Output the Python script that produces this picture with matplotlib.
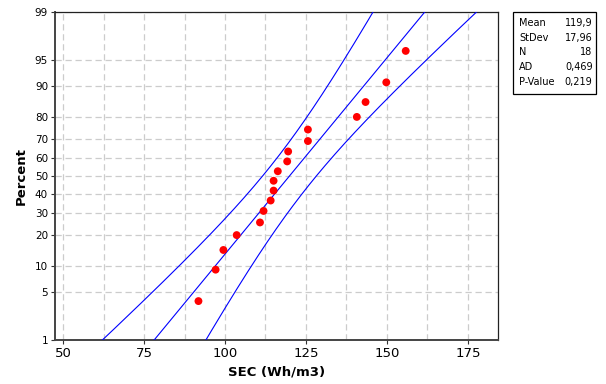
import numpy as np
import matplotlib
matplotlib.use("Agg")
import matplotlib.pyplot as plt
from matplotlib.patches import Rectangle
from statistics import NormalDist

# ---- data ----
sec_values = [91.8, 97.1, 99.5, 103.6, 110.8, 111.9, 114.1, 115.0, 115.0,
              116.3, 119.2, 119.5, 125.6, 125.6, 140.7, 143.4, 149.8, 155.8]
percent_values = [3.8, 9.2, 14.7, 20.1, 25.5, 31.0, 36.4, 41.8, 47.3,
                  52.7, 58.2, 63.6, 69.0, 74.5, 79.9, 85.3, 90.8, 96.2]
y_ticks = [1, 5, 10, 20, 30, 40, 50, 60, 70, 80, 90, 95, 99]
x_ticks = [50, 75, 100, 125, 150, 175]
stat_labels = ["Mean", "StDev", "N", "AD", "P-Value"]
stat_texts = ["119,9", "17,96", "18", "0,469", "0,219"]
mean_val = 119.9
sd_val = 17.96
n_val = 18

nd = NormalDist()
_ppf = np.vectorize(nd.inv_cdf, otypes=[float])
_cdf = np.vectorize(nd.cdf, otypes=[float])


def fwd(p):
    p = np.clip(np.asarray(p, dtype=float), 1e-9, 100 - 1e-9)
    return _ppf(p / 100.0)


def inv(z):
    return _cdf(np.asarray(z, dtype=float)) * 100.0


fig = plt.figure(figsize=(6.06, 3.84), dpi=100)
W, H = 606, 384
L, R, T, B = 55, 498, 12, 340
ax = fig.add_axes([L / W, 1 - B / H, (R - L) / W, (B - T) / H])
ax.set_yscale("function", functions=(fwd, inv))

# fitted line and 95% CI bands
z = np.linspace(-2.6, 2.6, 300)
p_line = inv(z)
x_fit = mean_val + sd_val * z
se = sd_val * np.sqrt(1.0 / n_val + z ** 2 / (2.0 * n_val))
ax.plot(x_fit, p_line, color="#0000ff", lw=0.8, zorder=3)
ax.plot(x_fit - 1.96 * se, p_line, color="#0000ff", lw=0.8, zorder=3)
ax.plot(x_fit + 1.96 * se, p_line, color="#0000ff", lw=0.8, zorder=3)

ax.scatter(sec_values, percent_values, s=32, color="#ff0000", zorder=4,
           edgecolors="none")

ax.set_xlim(47.5, 184.3)
ax.set_ylim(1, 99)
ax.set_yticks(y_ticks)
ax.set_yticklabels([str(t) for t in y_ticks], fontsize=7.5)
ax.set_xticks(x_ticks)
ax.set_xticklabels([str(t) for t in x_ticks], fontsize=9.5)
ax.set_xticks(np.arange(62.5, 184, 25), minor=True)
ax.yaxis.set_minor_locator(matplotlib.ticker.NullLocator())
ax.tick_params(axis="both", which="major", direction="out", length=3,
               width=0.8, color="#333333", pad=2)
ax.tick_params(axis="x", which="minor", length=0)

ax.grid(True, which="both", axis="x", color="#cccccc", linestyle=(0, (5, 3)),
        lw=0.9)
ax.grid(True, which="major", axis="y", color="#cccccc", linestyle=(0, (5, 3)),
        lw=0.9)
ax.set_axisbelow(True)

for s in ["left", "bottom"]:
    ax.spines[s].set_linewidth(1.4)
    ax.spines[s].set_color("#444444")
for s in ["top", "right"]:
    ax.spines[s].set_linewidth(0.9)
    ax.spines[s].set_color("#222222")

ax.set_xlabel("SEC (Wh/m3)", fontsize=9.5, fontweight="bold", labelpad=4)
ax.set_ylabel("Percent", fontsize=9.5, fontweight="bold", labelpad=5)

# statistics box
bx0, bx1, by0, by1 = 513, 596, 12, 94
fig.patches.append(Rectangle((bx0 / W, 1 - by1 / H), (bx1 - bx0) / W,
                             (by1 - by0) / H, transform=fig.transFigure,
                             fill=False, edgecolor="black", lw=0.9))
for i, (lab, val) in enumerate(zip(stat_labels, stat_texts)):
    yy = 1 - (23 + i * 14.7) / H
    fig.text(519 / W, yy, lab, fontsize=7, va="center", ha="left")
    fig.text(592.5 / W, yy, val, fontsize=7, va="center", ha="right")

fig.savefig("out.png", dpi=100)
